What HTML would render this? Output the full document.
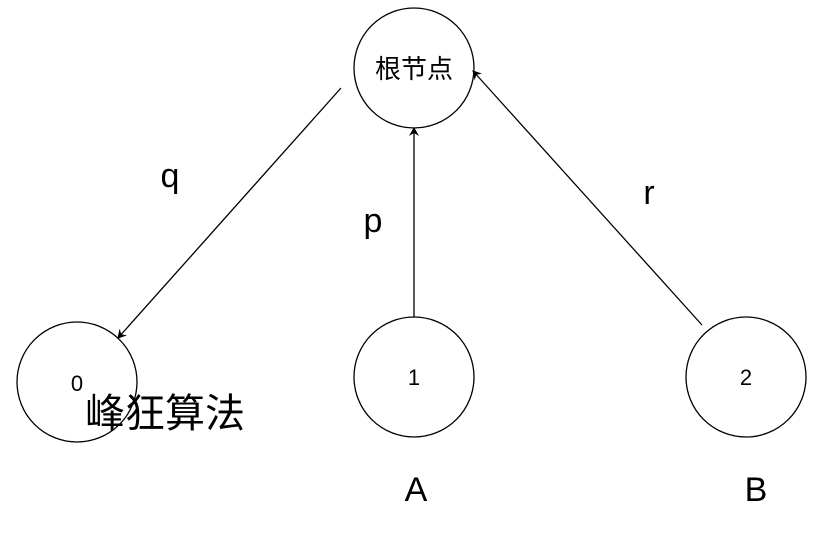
<!DOCTYPE html>
<html><head><meta charset="utf-8"><style>html,body{margin:0;padding:0;background:#fff}</style></head>
<body>
<svg width="822" height="531" viewBox="0 0 822 531" xmlns="http://www.w3.org/2000/svg">
<defs><marker id="a" markerWidth="10" markerHeight="10" refX="8" refY="5" orient="auto" markerUnits="userSpaceOnUse"><path d="M0,0 L9,5 L0,10 L3,5 z" fill="#000"/></marker></defs>
<g fill="none" stroke="#000" stroke-width="1.3">
<circle cx="414" cy="68" r="60"/>
<circle cx="77" cy="382" r="60"/>
<circle cx="414" cy="377" r="60"/>
<circle cx="746" cy="377" r="60"/>
<line x1="341" y1="88" x2="118" y2="338" marker-end="url(#a)"/>
<line x1="414" y1="317" x2="414" y2="128" marker-end="url(#a)"/>
<line x1="702" y1="325" x2="473" y2="71" marker-end="url(#a)"/>
</g>
<g font-family="Liberation Sans, Noto Sans CJK SC, sans-serif" fill="#000" text-anchor="middle">
<text x="414" y="78" font-size="26">根节点</text>
<text x="77" y="391" font-size="22">0</text>
<text x="414" y="385" font-size="22">1</text>
<text x="746" y="385" font-size="22">2</text>
<text x="170" y="187" font-size="34">q</text>
<text x="373" y="232" font-size="34">p</text>
<text x="649" y="204" font-size="34">r</text>
<text x="416" y="501" font-size="34">A</text>
<text x="756" y="501" font-size="34">B</text>
<text x="165" y="427" font-size="40">峰狂算法</text>
</g>
</svg>
</body></html>
